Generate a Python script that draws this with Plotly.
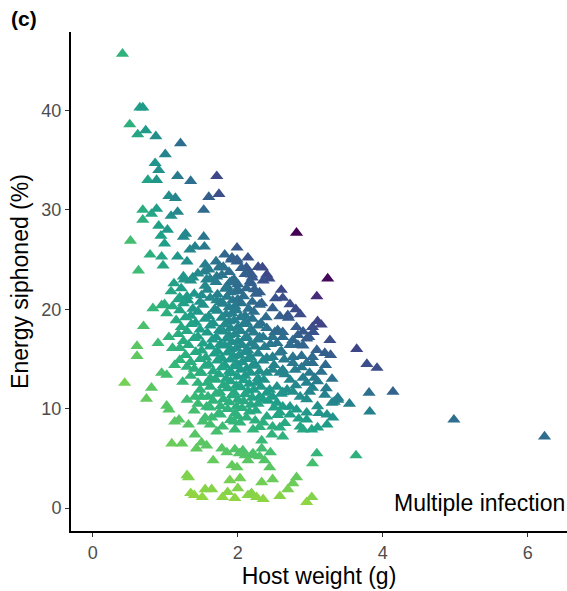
import plotly.graph_objects as go

# Edge / outlying points (host weight g, energy siphoned %)
edge_x = [0.41, 0.65, 0.69, 0.51, 0.62, 0.73, 0.87, 1.21, 1.00, 0.86, 0.91, 0.76, 0.88,
          1.17, 1.35, 1.71, 1.74, 1.60, 1.05, 1.14, 1.53, 0.69, 0.88, 0.81, 1.08, 1.17,
          0.69, 0.91, 1.03, 0.94, 1.28, 1.25, 0.99, 1.53, 0.52, 1.41, 1.54, 1.34, 0.79,
          0.95, 1.17, 1.30, 0.97, 1.99, 1.82, 1.91, 1.99,
          2.81, 3.24, 3.09, 2.34, 2.40, 2.43, 2.52, 2.72, 2.48, 2.69, 2.86, 2.39,
          3.03, 3.04, 2.81, 2.83, 2.62, 3.27, 2.98, 3.64, 3.09, 3.20,
          3.78, 3.92, 3.21, 3.81, 4.14, 3.82, 3.54, 3.38, 3.33, 4.98, 6.23,
          3.63, 3.09, 3.03, 2.44, 2.48, 2.33, 2.81, 2.76, 2.69, 2.58, 2.35, 2.95, 3.02,
          0.63, 0.83, 0.95, 0.99, 0.70, 0.61, 0.90, 1.05, 1.10, 0.61,
          0.44, 0.81, 0.74, 0.95, 1.02, 1.02, 1.05, 1.13, 1.19, 1.32, 1.09, 1.23,
          1.41, 1.50, 1.57, 1.43, 1.30, 1.32,
          1.35, 1.40, 1.55, 1.64, 1.51, 1.79, 1.86, 1.96, 2.14, 2.19, 2.26,
          1.66, 1.89, 2.03, 2.00, 1.92, 1.99, 2.02, 2.10, 2.20, 2.30, 2.37, 2.45,
          1.52, 1.64, 1.71, 1.79, 1.96, 2.03, 2.12, 2.21,
          1.78, 1.85, 1.96, 2.07, 2.19, 2.14, 2.21,
          3.20, 3.30, 3.38, 3.23, 3.31, 3.23, 2.86, 2.90, 3.02, 2.95, 3.06, 2.99, 3.03,
          2.40, 2.48, 2.58, 2.62, 2.76, 2.79, 2.95, 3.03, 2.72, 2.90, 2.95, 2.99, 2.86,
          2.76, 2.68, 2.54, 2.44, 2.40, 2.35, 2.48, 2.54, 2.62, 2.72, 2.81, 2.95, 2.72,
          2.58, 2.40, 2.35, 2.48, 2.58, 2.47, 2.62, 2.33, 2.33,
          2.76, 2.83, 2.72, 2.54, 2.48, 2.40, 2.35, 2.37, 2.62, 2.51, 2.30, 2.33,
          2.48, 2.76, 3.03,
          1.13, 1.20, 1.30, 1.24, 1.45, 1.41, 1.30, 1.50, 1.59, 1.57,
          2.14, 2.12, 2.19, 2.17, 2.23, 1.92, 1.99, 1.75, 1.71, 1.54, 1.57, 1.38, 1.26,
          1.20, 1.31, 1.50, 1.71, 1.89, 1.99]
edge_y = [45.7, 40.3, 40.3, 38.6, 37.6, 38.0, 37.4, 36.7, 35.6, 34.7, 34.0, 33.0, 33.0,
          33.4, 32.9, 33.4, 31.6, 31.3, 31.4, 31.2, 30.0, 30.0, 30.1, 29.6, 29.4, 29.8,
          29.0, 28.4, 28.0, 27.4, 27.6, 27.3, 26.6, 27.3, 26.9, 26.3, 26.3, 26.0, 25.5,
          25.3, 25.3, 24.8, 24.4, 26.2, 25.5, 25.0, 24.8,
          27.7, 23.1, 21.3, 24.2, 23.5, 23.1, 21.1, 20.5, 20.1, 19.4, 19.5, 19.2,
          18.2, 17.7, 18.2, 17.4, 17.7, 16.9, 17.2, 16.0, 15.9, 15.6,
          14.5, 14.1, 14.4, 11.6, 11.7, 9.7, 10.5, 11.1, 10.7, 8.9, 7.2,
          5.3, 5.5, 4.5, 4.1, 2.9, 2.6, 3.1, 2.5, 1.9, 1.2, 0.9, 0.6, 1.1,
          23.9, 20.1, 20.4, 20.5, 18.3, 16.3, 16.6, 17.2, 16.1, 15.3,
          12.6, 12.1, 11.0, 13.6, 13.4, 10.3, 9.9, 8.7, 8.9, 8.4, 6.5, 6.5,
          7.4, 6.6, 6.3, 6.0, 3.3, 3.1,
          1.5, 1.3, 1.9, 1.9, 1.1, 1.1, 1.6, 1.0, 1.3, 1.5, 1.1,
          4.8, 2.8, 3.0, 2.0, 4.3, 4.1, 5.5, 5.3, 5.4, 5.2, 4.8, 5.6,
          8.7, 9.1, 7.7, 8.2, 7.9, 8.6, 9.1, 7.9,
          6.0, 5.6, 5.9, 5.8, 5.3, 4.8, 5.5,
          11.4, 10.6, 10.9, 9.4, 9.1, 8.4, 8.2, 7.9, 7.9, 8.9, 13.1, 13.6, 12.1,
          13.6, 13.9, 13.6, 13.9, 14.6, 13.9, 14.6, 14.6, 12.9, 13.1, 12.6, 11.7, 11.2,
          11.7, 11.9, 12.2, 11.9, 11.6, 10.9, 11.2, 10.6, 10.2, 10.2, 9.9, 9.6, 9.4,
          9.6, 9.2, 8.6, 8.2, 8.1, 7.4, 7.2, 6.8, 6.0,
          16.9, 16.4, 16.4, 16.6, 17.2, 18.1, 17.2, 16.2, 17.2, 17.7, 21.7, 20.6,
          15.2, 15.2, 15.2,
          14.4, 14.9, 14.2, 12.7, 12.6, 11.2, 10.9, 13.6, 11.2, 10.2,
          25.2, 24.2, 23.5, 22.8, 22.0, 25.2, 25.0, 24.2, 23.3, 23.8, 23.0, 23.2, 23.0,
          21.2, 20.9, 21.4, 20.9, 22.7, 22.0]

# Dense core, band by band (energy level and the host weights in that band)
core_levels = [24.5, 24.0, 23.3, 22.6, 21.8, 21.0, 20.3, 19.6, 18.9, 18.2, 17.5, 16.8,
               16.1, 15.4, 14.7, 14.0, 13.3, 12.6, 11.9, 11.2, 10.5, 9.8, 9.1, 8.4]
core_weights = [
    [1.55, 1.70, 1.80],
    [1.60, 1.75, 1.88, 2.05, 2.15, 2.28],
    [1.25, 1.45, 1.62, 1.78, 1.95, 2.10, 2.20],
    [1.12, 1.35, 1.55, 1.70, 1.85, 1.92, 2.00, 2.18, 2.35],
    [1.08, 1.22, 1.40, 1.58, 1.72, 1.83, 1.90, 2.02, 2.12, 2.25, 2.60],
    [1.18, 1.30, 1.48, 1.62, 1.76, 1.85, 1.93, 2.00, 2.08, 2.20, 2.62],
    [1.10, 1.25, 1.38, 1.52, 1.68, 1.80, 1.88, 1.96, 2.05, 2.15, 2.30, 2.80],
    [1.02, 1.20, 1.35, 1.45, 1.60, 1.72, 1.84, 1.92, 1.98, 2.10, 2.22, 2.58],
    [1.15, 1.28, 1.42, 1.55, 1.66, 1.78, 1.88, 1.95, 2.04, 2.12, 2.20, 2.32, 2.70, 3.10],
    [1.22, 1.36, 1.48, 1.62, 1.75, 1.82, 1.90, 2.00, 2.08, 2.18, 2.28, 2.55, 3.15],
    [1.18, 1.30, 1.45, 1.58, 1.70, 1.80, 1.88, 1.96, 2.04, 2.12, 2.22, 2.30, 2.90],
    [1.25, 1.40, 1.52, 1.65, 1.76, 1.85, 1.92, 2.00, 2.10, 2.18, 2.28, 2.45, 2.95],
    [1.20, 1.32, 1.50, 1.62, 1.72, 1.82, 1.90, 1.98, 2.06, 2.14, 2.24, 2.60, 2.90],
    [1.28, 1.42, 1.56, 1.68, 1.78, 1.86, 1.94, 2.02, 2.10, 2.18, 2.28, 2.40, 2.58, 2.88, 3.28],
    [1.35, 1.48, 1.60, 1.72, 1.82, 1.90, 1.98, 2.06, 2.14, 2.24, 2.35, 2.50, 2.64],
    [1.40, 1.55, 1.66, 1.78, 1.88, 1.96, 2.04, 2.12, 2.20, 2.30, 2.88, 3.15],
    [1.35, 1.48, 1.62, 1.74, 1.84, 1.92, 2.00, 2.10, 2.18, 2.28, 2.65, 3.30],
    [1.58, 1.70, 1.80, 1.90, 1.98, 2.08, 2.16, 2.26, 2.36, 2.80, 3.10],
    [1.48, 1.62, 1.75, 1.86, 1.95, 2.04, 2.14, 2.22, 2.32, 2.62, 3.22],
    [1.50, 1.70, 1.80, 1.92, 2.00, 2.10, 2.20, 2.30, 2.60, 2.95],
    [1.45, 1.66, 1.76, 1.88, 1.98, 2.08, 2.18, 2.28, 2.42, 3.10],
    [1.40, 1.62, 1.74, 1.86, 1.96, 2.06, 2.16, 2.25, 2.50, 3.12],
    [1.55, 1.76, 1.90, 2.00, 2.24, 2.55, 2.84],
    [1.62, 1.95, 2.30, 2.65, 3.10],
]
# small within-band offsets (alternating staggering)
core_offsets = [0.0, 0.3, -0.25, 0.15, -0.3, 0.25, -0.1]

host_weight = list(edge_x)
energy = list(edge_y)
for lvl, ws in zip(core_levels, core_weights):
    for i, w in enumerate(ws):
        host_weight.append(w)
        energy.append(lvl + core_offsets[i % len(core_offsets)])

# colour: energy taken in absolute terms (weight x share)
taken = [w * e for w, e in zip(host_weight, energy)]

fig = go.Figure()
fig.add_trace(go.Scatter(
    x=host_weight, y=energy, mode="markers",
    marker=dict(symbol="triangle-up", size=11.5, color=taken,
                colorscale="Viridis_r", cmin=-13.6, cmax=77,
                line=dict(width=0)),
    showlegend=False, hoverinfo="skip"))

font_family = "Liberation Sans, Arial, sans-serif"
fig.update_layout(
    width=567, height=591,
    margin=dict(l=71, r=0, t=32, b=60),
    plot_bgcolor="white", paper_bgcolor="white",
    font=dict(family=font_family, color="black"),
    xaxis=dict(range=[-0.30, 6.54], tickvals=[0, 2, 4, 6], ticks="outside", ticklen=4,
               tickcolor="#333333", tickwidth=1.2,
               showline=True, linecolor="black", linewidth=2, showgrid=False, zeroline=False,
               tickfont=dict(size=18, color="#4d4d4d"),
               title=dict(text="Host weight (g)", font=dict(size=23, color="black"), standoff=3)),
    yaxis=dict(range=[-2.3, 47.9], tickvals=[0, 10, 20, 30, 40], ticks="outside", ticklen=4,
               tickcolor="#333333", tickwidth=1.2,
               showline=True, linecolor="black", linewidth=2, showgrid=False, zeroline=False,
               tickfont=dict(size=18, color="#4d4d4d"),
               title=dict(text="Energy siphoned (%)", font=dict(size=23, color="black"), standoff=6)),
    annotations=[
        dict(text="<b>(c)</b>", xref="paper", yref="paper", x=-0.125, y=1.0,
             xanchor="left", yanchor="bottom", showarrow=False,
             font=dict(size=21, color="black"), yshift=0),
        dict(text="Multiple infection", xref="paper", yref="y", x=1.0, y=0.5,
             xanchor="right", yanchor="middle", showarrow=False,
             font=dict(size=23, color="black")),
    ],
)

fig.write_html("out.html")
